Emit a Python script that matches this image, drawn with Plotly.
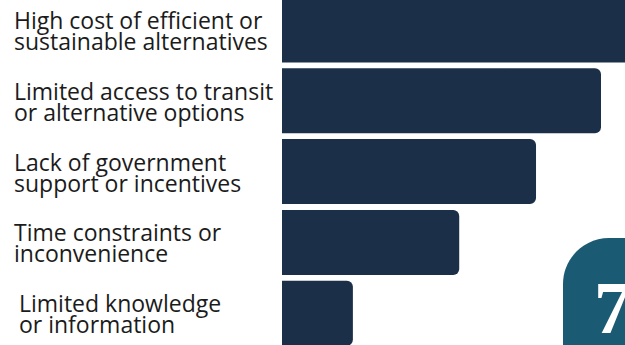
import plotly.graph_objects as go

# Barriers to adopting sustainable choices (share of respondents, %)
categories = [
    "High cost of efficient or<br>sustainable alternatives",
    "Limited access to transit<br>or alternative options",
    "Lack of government<br>support or incentives",
    "Time constraints or<br>inconvenience",
    "Limited knowledge<br>or information",
]
values = [62, 54, 43, 30, 12]
badge_text = "7"

W, H = 625, 345
BAR_COLOR = "#1c2f48"
BADGE_COLOR = "#1a5b73"
TEXT_COLOR = "#1b1b1b"

positions = list(range(len(categories)))

fig = go.Figure(
    go.Bar(
        x=values,
        y=positions,
        orientation="h",
        width=0.918,
        marker=dict(color=BAR_COLOR, line=dict(width=0), cornerradius=6),
        hoverinfo="skip",
    )
)

# Two-line labels drawn line by line for tight leading (x in pixels)
indent = {4: 5}
for i, label in enumerate(categories):
    first, second = label.split("<br>")
    for text, shift in ((first, 10), (second, -11)):
        fig.add_annotation(
            x=(12 + indent.get(i, 0)) / W, xref="paper",
            y=i, yref="y",
            text=text, showarrow=False,
            xanchor="left", yanchor="middle", yshift=shift,
            font=dict(family="Open Sans", size=23, color=TEXT_COLOR),
        )

# Badge in the lower-right corner
x0, ytop, r = 563 / W, 1 - 238 / H, 46
rx, ry = r / W, r / H
k = 0.55
path = (
    f"M {x0},0 L {x0},{ytop - ry} "
    f"C {x0},{ytop - ry + k * ry} {x0 + rx - k * rx},{ytop} {x0 + rx},{ytop} "
    f"L 1.2,{ytop} L 1.2,0 Z"
)
fig.add_shape(type="path", path=path, xref="paper", yref="paper",
              fillcolor=BADGE_COLOR, line=dict(width=0), layer="above")
fig.add_annotation(
    x=592 / W, xref="paper", y=1 - 308 / H, yref="paper",
    text=f"<b>{badge_text}</b>", showarrow=False,
    xanchor="left", yanchor="middle",
    font=dict(family="Liberation Serif", size=74, color="white"),
)

fig.update_layout(
    width=W, height=H,
    margin=dict(l=0, r=0, t=0, b=0),
    paper_bgcolor="white", plot_bgcolor="white",
    showlegend=False,
    xaxis=dict(domain=[282 / W, 1], range=[0, 54 * 343 / 319],
               visible=False, fixedrange=True),
    yaxis=dict(range=[(H - 30) / 70.8, -30 / 70.8],
               visible=False, fixedrange=True),
)

fig.write_html("out.html")
